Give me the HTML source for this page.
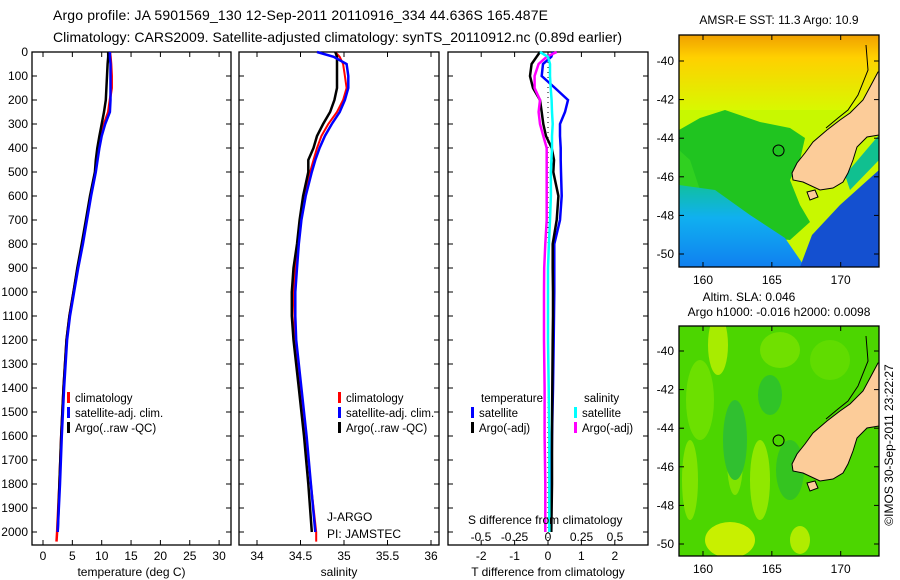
<!DOCTYPE html>
<html><head><meta charset="utf-8"><style>
html,body{margin:0;padding:0;background:#fff;}
svg{display:block;font-family:"Liberation Sans",sans-serif;}
</style></head><body>
<svg id="fig" width="900" height="580" viewBox="0 0 900 580" xmlns="http://www.w3.org/2000/svg">
<defs>
<linearGradient id="sstTop" x1="0" y1="0" x2="0" y2="1">
<stop offset="0" stop-color="#f0a000"/><stop offset="0.3" stop-color="#ffd000"/><stop offset="1" stop-color="#d8f800"/></linearGradient>
<linearGradient id="sstLow" x1="0" y1="0" x2="0" y2="1">
<stop offset="0" stop-color="#10c0a0"/><stop offset="0.4" stop-color="#10b0f0"/><stop offset="1" stop-color="#1080f0"/></linearGradient>
<clipPath id="m1"><rect x="679" y="35" width="200" height="232"/></clipPath>
<clipPath id="m2"><rect x="679" y="326" width="200" height="230"/></clipPath>
</defs>
<g id="root"></g>
</svg>
<script>
// ---- profile data ----
const depths = [0,20,50,100,150,200,250,300,350,400,450,500,600,700,800,900,1000,1100,1200,1400,1600,1800,2000,2040];
const argoT = [11.1,11.1,11.0,10.9,10.8,10.7,10.4,10.0,9.6,9.25,9.0,8.85,8.0,7.3,6.6,5.85,5.2,4.5,4.0,3.5,3.1,2.8,2.5,null];
const climT = [11.4,11.5,11.6,11.7,11.7,11.4,11.1,10.4,9.8,9.4,9.1,8.9,8.1,7.4,6.7,5.9,5.2,4.5,4.0,3.5,3.1,2.8,2.4,2.3];
const satT  = [11.4,11.4,11.5,11.5,11.5,11.5,11.4,10.6,10.0,9.6,9.3,9.0,8.2,7.5,6.8,6.0,5.3,4.6,4.1,3.6,3.2,2.9,2.5,null];
const argoS = [34.90,34.92,34.92,34.92,34.92,34.89,34.84,34.76,34.69,34.65,34.59,34.59,34.53,34.49,34.46,34.42,34.40,34.40,34.42,34.48,34.54,34.59,34.63,null];
const climS = [34.90,34.95,34.99,35.01,35.03,34.99,34.92,34.82,34.74,34.69,34.65,34.61,34.54,34.50,34.47,34.44,34.42,34.43,34.43,34.50,34.56,34.62,34.68,34.68];
const satS  = [34.69,34.88,35.03,35.05,35.05,35.01,34.95,34.86,34.78,34.72,34.67,34.63,34.56,34.51,34.48,34.46,34.44,34.44,34.45,34.51,34.57,34.62,34.67,null];
const satDT  = [0.15,0.1,-0.15,-0.19,0.21,0.6,0.51,0.36,0.36,0.38,0.38,0.39,0.41,0.36,0.19,0.19,0.19,0.18,0.17,0.15,0.12,0.1,0.08,null];
const argoDT = [-0.24,-0.34,-0.49,-0.54,-0.45,-0.24,-0.19,-0.14,-0.06,0.11,0.18,0.16,0.31,0.26,0.14,0.14,0.15,0.15,0.14,0.13,0.12,0.12,0.1,null];
const argoDS = [0.065,-0.01,-0.07,-0.1,-0.1,-0.06,-0.07,-0.06,-0.035,-0.01,-0.01,-0.01,-0.01,-0.01,-0.02,-0.028,-0.03,-0.03,-0.03,-0.025,-0.025,-0.02,-0.02,null];
const satDS  = [-0.06,0,0.015,0.015,0.02,0.027,0.03,0.035,0.03,0.03,0.025,0.022,0.022,0.015,0.007,0,0,0,0,0.005,0.01,0.01,0.01,null];
const depthTicks = [0,100,200,300,400,500,600,700,800,900,1000,1100,1200,1300,1400,1500,1600,1700,1800,1900,2000];
const tempTicks = [0,5,10,15,20,25,30];
const salTicks = [34,34.5,35,35.5,36];
const dtTicks = [-2,-1,0,1,2];
const dsTicks = [-0.5,-0.25,0,0.25,0.5];
const latTicks = [-40,-42,-44,-46,-48,-50];
const lonTicks = [160,165,170];
const floatLon = 165.487, floatLat = -44.636;

// ---- scales ----
const yD = d => 52 + d*0.24;
const xT = t => 43 + t*5.87;
const xS = s => 257 + (s-34)*87;
const xDT = v => 548 + v*33.4;
const xDS = v => 548 + v*134;
const lonX = lo => 703 + (lo-160)*13.77;
const lat1Y = la => 61 + (-40-la)*19.3;
const lat2Y = la => 351 + (-40-la)*19.3;

const NS="http://www.w3.org/2000/svg";
const root=document.getElementById('root');
function el(tag,attrs,parent,txt){const e=document.createElementNS(NS,tag);for(const k in attrs)e.setAttribute(k,attrs[k]);if(txt!==undefined)e.textContent=txt;(parent||root).appendChild(e);return e;}
function text(x,y,s,anchor,size,name,parent){const t=el('text',{x:x,y:y,'font-size':size||12,'text-anchor':anchor||'start',fill:'#000'},parent,s);


return t;}

// titles
text(53,20,'Argo profile: JA 5901569_130 12-Sep-2011 20110916_334 44.636S 165.487E','start',14,'title-line-1').setAttribute('textLength','495');
text(53,42,'Climatology: CARS2009. Satellite-adjusted climatology: synTS_20110912.nc (0.89d earlier)','start',14,'title-line-2').setAttribute('textLength','569');

function panel(x0,x1,name,xticks,xf,xlabels,xtitle){
  const g=el('g',{});
  
  
  const r=el('rect',{x:x0,y:52,width:x1-x0,height:493,fill:'none',stroke:'#000','stroke-width':1.3},g);
  
  
  depthTicks.forEach(d=>{el('line',{x1:x0,x2:x0+5,y1:yD(d),y2:yD(d),stroke:'#000'},g);el('line',{x1:x1,x2:x1-5,y1:yD(d),y2:yD(d),stroke:'#000'},g);});
  xticks.forEach((t,i)=>{const x=xf(t);el('line',{x1:x,x2:x,y1:52,y2:57,stroke:'#000'},g);el('line',{x1:x,x2:x,y1:545,y2:540,stroke:'#000'},g);
    text(x,560,xlabels?xlabels[i]:String(t),'middle',12,name+'-x-tick-label',g);});
  text((x0+x1)/2,576,xtitle,'middle',12,name+'-x-axis-title',g);
  return g;
}
const p1=panel(32,231,'temperature-panel',tempTicks,xT,null,'temperature (deg C)');
depthTicks.forEach(d=>text(28,yD(d)+4,String(d),'end',12,'depth-tick-label'));
const p2=panel(239,439,'salinity-panel',salTicks,xS,null,'salinity');
const p3=panel(448,648,'difference-panel',dtTicks,xDT,null,'T difference from climatology');

function series(vals,xf,color,w,name,parent){
  const pts=[];vals.forEach((v,i)=>{if(v!==null)pts.push(xf(v).toFixed(1)+','+yD(depths[i]).toFixed(1));});
  const p=el('polyline',{points:pts.join(' '),fill:'none',stroke:color,'stroke-width':w,'stroke-linejoin':'miter'},parent);
  
  
}
series(climT,xT,'#ff0000',2.5,'temp-climatology-line',p1);
series(argoT,xT,'#000000',2.5,'temp-argo-line',p1);
series(satT,xT,'#0000ff',2.5,'temp-satellite-line',p1);
series(climS,xS,'#ff0000',2,'sal-climatology-line',p2);
series(argoS,xS,'#000000',2.5,'sal-argo-line',p2);
series(satS,xS,'#0000ff',2.5,'sal-satellite-line',p2);
const zl=el('line',{x1:xDT(0),x2:xDT(0),y1:52,y2:545,stroke:'#000','stroke-dasharray':'1,4'},p3);


series(satDT,xDT,'#0000ff',2.5,'tdiff-satellite-line',p3);
series(argoDT,xDT,'#000000',2.5,'tdiff-argo-line',p3);
series(argoDS,xDS,'#ff00ff',2.5,'sdiff-argo-line',p3);
series(satDS,xDS,'#00ffff',2.5,'sdiff-satellite-line',p3);

function legendEntry(x,y,color,label,name){
  const g=el('g',{});
  
  
  el('rect',{x:x,y:y-6,width:3,height:11,fill:color},g);
  text(x+8,y+4,label,'start',11.5,name+'-label',g);
}
legendEntry(67,398,'#ff0000','climatology','legend-entry-climatology');
legendEntry(67,413,'#0000ff','satellite-adj. clim.','legend-entry-satellite');
legendEntry(67,428,'#000000','Argo(..raw -QC)','legend-entry-argo');
legendEntry(338,398,'#ff0000','climatology','legend-entry-climatology-sal');
legendEntry(338,413,'#0000ff','satellite-adj. clim.','legend-entry-satellite-sal');
legendEntry(338,428,'#000000','Argo(..raw -QC)','legend-entry-argo-sal');
text(481,402,'temperature','start',11.5,'legend-heading-temperature');
text(584,402,'salinity','start',11.5,'legend-heading-salinity');
legendEntry(471,413,'#0000ff','satellite','legend-entry-t-satellite');
legendEntry(471,428,'#000000','Argo(-adj)','legend-entry-t-argo');
legendEntry(574,413,'#00ffff','satellite','legend-entry-s-satellite');
legendEntry(574,428,'#ff00ff','Argo(-adj)','legend-entry-s-argo');
text(327,521,'J-ARGO','start',12,'data-centre-label');
text(327,538,'PI: JAMSTEC','start',12,'pi-label');
text(468,524,'S difference from climatology','start',12,'s-axis-title');
dsTicks.forEach(v=>text(xDS(v),541,String(v),'middle',12,'s-tick-label'));

// ---- maps ----
const land = [[878,72],[870,87],[863,100],[850,113],[840,120],[827,130],[813,142],[805,153],[797,163],[792,173],[793,180],[803,182],[820,190],[833,188],[843,182],[848,173],[853,160],[857,147],[867,137],[879,135],[879,72]];
function landPts(dy){return land.map(p=>p[0]+','+(p[1]+dy)).join(' ');}
function mapFrame(y0,h,name,latY){
  const g=el('g',{});
  
  
  el('rect',{x:679,y:y0,width:200,height:h,fill:'none',stroke:'#000','stroke-width':1.3},g);
  latTicks.forEach(l=>{const y=latY(l);el('line',{x1:679,x2:684,y1:y,y2:y,stroke:'#000'},g);el('line',{x1:879,x2:874,y1:y,y2:y,stroke:'#000'},g);text(674,y+4,String(l),'end',12,name+'-lat-label',g);});
  lonTicks.forEach(l=>{const x=lonX(l);el('line',{x1:x,x2:x,y1:y0,y2:y0+5,stroke:'#000'},g);el('line',{x1:x,x2:x,y1:y0+h,y2:y0+h-5,stroke:'#000'},g);text(x,y0+h+17,String(l),'middle',12,name+'-lon-label',g);});
  const c=el('circle',{cx:lonX(floatLon),cy:latY(floatLat),r:5.5,fill:'none',stroke:'#000'},g);
  
  
}
// map 1 SST
const g1=el('g',{'clip-path':'url(#m1)'});


el('rect',{x:679,y:35,width:200,height:232,fill:'#c8f800'},g1);
el('rect',{x:679,y:35,width:200,height:75,fill:'url(#sstTop)'},g1);
el('polygon',{points:'679,130 700,118 725,110 760,122 790,128 805,138 800,160 790,180 800,205 810,222 790,240 740,235 700,220 679,215',fill:'#20c420'},g1);
el('polygon',{points:'679,150 690,160 700,190 679,195',fill:'#30d020'},g1);
el('polygon',{points:'679,185 715,190 750,215 785,238 805,267 679,267',fill:'url(#sstLow)'},g1);
el('polygon',{points:'800,267 812,235 840,205 879,170 879,267',fill:'#1450d0'},g1);
el('polygon',{points:'845,175 879,135 879,160 850,190',fill:'#10c090'},g1);
el('polygon',{points:landPts(0),fill:'#fccc99',stroke:'#000','stroke-width':1},g1);
el('polyline',{points:'866,45 868,70 858,95 848,110 838,118 826,128',fill:'none',stroke:'#000','stroke-width':1},g1);
el('polygon',{points:'807,192 815,190 818,197 810,200',fill:'#fccc99',stroke:'#000'},g1);
mapFrame(35,232,'sst-map',lat1Y);
text(779,24,'AMSR-E SST: 11.3 Argo: 10.9','middle',12,'sst-map-title');
// map 2 SLA
const g2=el('g',{'clip-path':'url(#m2)'});


el('rect',{x:679,y:326,width:200,height:230,fill:'#4cd600'},g2);
[[718,345,10,30,'#a8ec00'],[700,400,14,40,'#6ce000'],[780,350,20,18,'#70e000'],[760,480,10,40,'#90e800'],[735,460,8,35,'#80e400'],[730,540,25,18,'#c8f000'],[800,540,10,14,'#b0ec00'],[690,480,8,40,'#80e400'],[830,360,20,20,'#60dc00']].forEach(e=>{el('ellipse',{cx:e[0],cy:e[1],rx:e[2],ry:e[3],fill:e[4]},g2);});
[[735,440,12,40,'#30c030'],[770,395,12,20,'#30c428'],[790,470,14,30,'#34c420']].forEach(e=>{el('ellipse',{cx:e[0],cy:e[1],rx:e[2],ry:e[3],fill:e[4]},g2);});
el('polygon',{points:landPts(291),fill:'#fccc99',stroke:'#000','stroke-width':1},g2);
el('polyline',{points:'866,336 868,361 858,386 848,401 838,409 826,419',fill:'none',stroke:'#000','stroke-width':1},g2);
el('polygon',{points:'807,483 815,481 818,488 810,491',fill:'#fccc99',stroke:'#000'},g2);
mapFrame(326,230,'sla-map',lat2Y);
text(749,301,'Altim. SLA: 0.046','middle',12,'sla-map-title-1');
text(779,316,'Argo h1000: -0.016 h2000: 0.0098','middle',12,'sla-map-title-2');
const cr=text(0,0,'©IMOS 30-Sep-2011 23:22:27','middle',12,'copyright-timestamp');
cr.setAttribute('transform','translate(893,445) rotate(-90)');
</script>
</body></html>
